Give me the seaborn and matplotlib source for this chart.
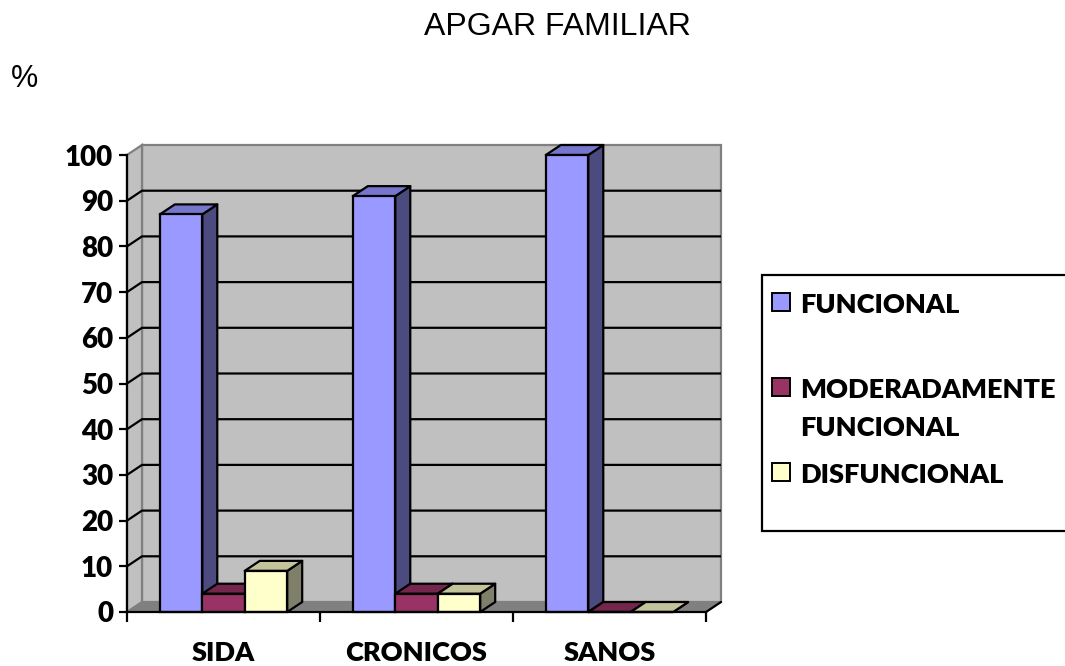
import matplotlib
matplotlib.use("Agg")
import matplotlib.pyplot as plt
from matplotlib.patches import Polygon, Rectangle
import seaborn as sns
import pandas as pd
import numpy as np

# ---- data ----
categories = ["SIDA", "CRONICOS", "SANOS"]
series_names = ["FUNCIONAL", "MODERADAMENTE FUNCIONAL", "DISFUNCIONAL"]
legend_labels = ["FUNCIONAL", "MODERADAMENTE\nFUNCIONAL", "DISFUNCIONAL"]
funcional = [87, 91, 100]
moderadamente = [4, 4, 0]
disfuncional = [9, 4, 0]
y_ticks = [0, 10, 20, 30, 40, 50, 60, 70, 80, 90, 100]
title = "APGAR FAMILIAR"
y_unit = "%"

front_colors = ["#9999FF", "#993366", "#FFFFCC"]
top_colors = ["#7676CC", "#74264C", "#C4C49C"]
side_colors = ["#4B4B80", "#4D1A33", "#80806A"]

df = pd.DataFrame({
    "cat": categories * 3,
    "serie": sum([[s] * 3 for s in series_names], []),
    "val": funcional + moderadamente + disfuncional,
})

sns.set_theme(style="white")
BOLD = ["Lato", "DejaVu Sans"]
plt.rcParams["font.family"] = BOLD
plt.rcParams["text.color"] = "black"
plt.rcParams["xtick.color"] = "black"
plt.rcParams["ytick.color"] = "black"

W, H = 1065, 666
fig = plt.figure(figsize=(W / 100, H / 100), dpi=100)
ax = fig.add_axes([127 / W, 1 - 612 / H, (706 - 127) / W, (612 - 155) / H])
ax.set_facecolor("none")

sns.barplot(data=df, x="cat", y="val", hue="serie", order=categories,
            hue_order=series_names, palette=front_colors, width=0.66,
            saturation=1, edgecolor="black", linewidth=1.6, legend=False, ax=ax)

ax.set_xlim(-0.5, 2.5)
ax.set_ylim(0, 100)

# depth offset converted from pixels to data units
px_x = (706 - 127) / 3.0
px_y = (612 - 155) / 100.0
DX = 15 / px_x
DY = 10 / px_y
x0, x1 = -0.5, 2.5

# back wall
ax.add_patch(Polygon([(x0 + DX, DY), (x1 + DX, DY), (x1 + DX, 100 + DY), (x0 + DX, 100 + DY)],
                     closed=True, facecolor="#C0C0C0", edgecolor="#808080", lw=1.6,
                     zorder=0.5, clip_on=False))
# left wall
ax.add_patch(Polygon([(x0, 0), (x0 + DX, DY), (x0 + DX, 100 + DY), (x0, 100)],
                     closed=True, facecolor="#C0C0C0", edgecolor="#808080", lw=1.6,
                     zorder=0.5, clip_on=False))
# floor
ax.add_patch(Polygon([(x0, 0), (x1, 0), (x1 + DX, DY), (x0 + DX, DY)],
                     closed=True, facecolor="#808080", edgecolor="#808080", lw=1.0,
                     zorder=0.6, clip_on=False))
# gridlines on walls
for t in y_ticks[1:-1]:
    ax.plot([x0, x0 + DX, x1 + DX], [t, t + DY, t + DY], color="black", lw=1.6,
            zorder=0.8, clip_on=False, solid_capstyle="butt")
# floor right diagonal
ax.plot([x1, x1 + DX], [0, DY], color="black", lw=1.6, zorder=0.9, clip_on=False)

# 3D faces for bars
bars = sorted([p for p in ax.patches if isinstance(p, Rectangle)], key=lambda p: p.get_x())
for i, p in enumerate(bars):
    x, w, h = p.get_x(), p.get_width(), p.get_height()
    cat_center = round(x + w / 2)
    k = int(round((x + w / 2 - cat_center) / w)) + 1
    z = 2 + i
    top = Polygon([(x, h), (x + w, h), (x + w + DX, h + DY), (x + DX, h + DY)], closed=True,
                  facecolor=top_colors[k], edgecolor="black", lw=1.6, zorder=z + 0.1,
                  clip_on=False, joinstyle="round")
    side = Polygon([(x + w, 0), (x + w, h), (x + w + DX, h + DY), (x + w + DX, DY)], closed=True,
                   facecolor=side_colors[k], edgecolor="black", lw=1.6, zorder=z + 0.1,
                   clip_on=False, joinstyle="round")
    ax.add_patch(side)
    ax.add_patch(top)
    p.set_zorder(z + 0.2)
    p.set_clip_on(False)

# axes styling
for s in ["top", "right"]:
    ax.spines[s].set_visible(False)
for s in ["left", "bottom"]:
    ax.spines[s].set_color("black")
    ax.spines[s].set_linewidth(1.6)
    ax.spines[s].set_zorder(50)

ax.set_yticks(y_ticks)
ax.set_yticklabels([str(t) for t in y_ticks], fontsize=20, fontweight="heavy", color="black")
ax.tick_params(axis="y", direction="out", length=6, width=1.6, color="black", pad=4,
               left=True)
ax.set_xticks(range(len(categories)))
ax.set_xticklabels(categories, fontsize=19.5, fontweight="heavy", color="black")
ax.tick_params(axis="x", which="major", length=0, pad=21, bottom=True)
ax.set_xticks([x0, 0.5, 1.5, x1], minor=True)
ax.tick_params(axis="x", which="minor", direction="out", length=7, width=1.6,
               color="black", bottom=True)
ax.set_xlabel("")
ax.set_ylabel("")
ax.grid(False)

# title and unit
fig.text(557 / W, 1 - 27 / H, title, ha="center", va="center", fontsize=23,
         color="black", family=["Liberation Sans", "DejaVu Sans"])
fig.text(11 / W, 1 - 79 / H, y_unit, ha="left", va="center", fontsize=22,
         color="black", family=["Liberation Sans", "DejaVu Sans"])

# legend (manual, outside right)
fig.patches.append(Rectangle((762 / W, 1 - 531 / H), 320 / W, (531 - 275) / H,
                             transform=fig.transFigure, facecolor="white",
                             edgecolor="black", lw=1.6, figure=fig))
legend_y = [302, 387, 472]
for col, lab, yy in zip(front_colors, legend_labels, legend_y):
    fig.patches.append(Rectangle((772 / W, 1 - (yy + 9) / H), 18 / W, 18 / H,
                                 transform=fig.transFigure, facecolor=col,
                                 edgecolor="black", lw=1.4, figure=fig))
    fig.text(800 / W, 1 - (yy - 9) / H, lab, ha="left", va="top", fontsize=19.5,
             fontweight="heavy", color="black", linespacing=1.7)

fig.savefig("out.png", dpi=100)
